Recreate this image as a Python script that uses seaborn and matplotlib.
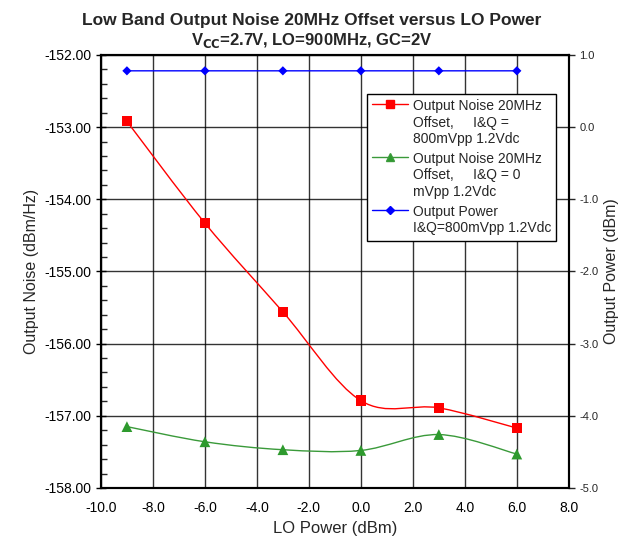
import numpy as np
import pandas as pd
import matplotlib
matplotlib.use("Agg")
import matplotlib.pyplot as plt
from matplotlib.path import Path
from matplotlib.patches import PathPatch
from matplotlib.lines import Line2D
from matplotlib.ticker import MultipleLocator, FormatStrFormatter
import seaborn as sns

lo_power = [-9, -6, -3, 0, 3, 6]
noise_800 = [-152.92, -154.33, -155.56, -156.79, -156.89, -157.17]
noise_0 = [-157.15, -157.36, -157.47, -157.48, -157.26, -157.53]
out_power = [0.78, 0.78, 0.78, 0.78, 0.78, 0.78]

labels = ["Output Noise 20MHz\nOffset,     I&Q =\n800mVpp 1.2Vdc",
          "Output Noise 20MHz\nOffset,     I&Q = 0\nmVpp 1.2Vdc",
          "Output Power\nI&Q=800mVpp 1.2Vdc"]

sns.set_style("white")
plt.rcParams['font.family'] = ['Liberation Sans', 'DejaVu Sans']


def smooth_path(x, y):
    # excel-like smoothed line: bezier segments through the points
    pts = np.column_stack([x, y]).astype(float)
    n = len(pts)
    verts = [pts[0]]
    codes = [Path.MOVETO]
    for i in range(n - 1):
        p0 = pts[i - 1] if i > 0 else pts[i]
        p1 = pts[i]
        p2 = pts[i + 1]
        p3 = pts[i + 2] if i + 2 < n else pts[i + 1]
        c1 = p1 + (p2 - p0) / 6.0
        c2 = p2 - (p3 - p1) / 6.0
        verts += [c1, c2, p2]
        codes += [Path.CURVE4] * 3
    return Path(verts, codes)


fig = plt.figure(figsize=(6.23, 5.44), dpi=100)
ax = fig.add_axes([0.162, 0.103, 0.751, 0.796])
ax2 = ax.twinx()

df = pd.DataFrame({"lo": lo_power, "n800": noise_800, "n0": noise_0, "pw": out_power})

ax.add_patch(PathPatch(smooth_path(df.lo, df.n800), fill=False, edgecolor="red", lw=1.0, zorder=3))
ax.add_patch(PathPatch(smooth_path(df.lo, df.n0), fill=False, edgecolor="#3a9a3a", lw=1.0, zorder=3))
sns.scatterplot(data=df, x="lo", y="n800", marker="s", color="red", s=55, edgecolor="none", ax=ax, zorder=4)
sns.scatterplot(data=df, x="lo", y="n0", marker="^", color="#2e9a2e", s=60, edgecolor="none", ax=ax, zorder=4)

ax2.add_patch(PathPatch(smooth_path(df.lo, df.pw), fill=False, edgecolor="blue", lw=1.0, zorder=3))
sns.scatterplot(data=df, x="lo", y="pw", marker="D", color="blue", s=22, edgecolor="none", ax=ax2, zorder=4)

ax.set_xlim(-10, 8)
ax.set_ylim(-158, -152)
ax2.set_ylim(-5, 1)

ax.xaxis.set_major_locator(MultipleLocator(2))
ax.xaxis.set_minor_locator(MultipleLocator(0.4))
ax.yaxis.set_major_locator(MultipleLocator(1))
ax.yaxis.set_minor_locator(MultipleLocator(0.2))
ax2.yaxis.set_major_locator(MultipleLocator(1))
ax.xaxis.set_major_formatter(FormatStrFormatter("%.1f"))
ax.yaxis.set_major_formatter(FormatStrFormatter("%.2f"))
ax2.yaxis.set_major_formatter(FormatStrFormatter("%.1f"))

ax.grid(True, which="major", color="black", lw=1.0, alpha=0.8)
ax.set_axisbelow(True)
for a in (ax, ax2):
    for s in a.spines.values():
        s.set_color("black")
        s.set_linewidth(1.5)

ax.tick_params(axis="both", which="major", direction="inout", length=7, width=1, labelsize=10, colors="black")
ax.tick_params(axis="both", which="minor", direction="in", length=4, width=1)
ax2.tick_params(axis="y", which="major", direction="out", length=4, width=1, labelsize=8)
ax.tick_params(axis="x", pad=6)

ax.set_xlabel("LO Power (dBm)", fontsize=12)
ax.set_ylabel("Output Noise (dBm/Hz)", fontsize=11.5)
ax2.set_ylabel("Output Power (dBm)", fontsize=11.5)

fig.text(0.5, 0.962, "Low Band Output Noise 20MHz Offset versus LO Power",
         ha="center", va="center", fontsize=12.5, fontweight="bold")
fig.text(0.5, 0.925, "V$_{\\mathbf{CC}}$=2.7V, LO=900MHz, GC=2V",
         ha="center", va="center", fontsize=12, fontweight="bold")

handles = [Line2D([], [], color="red", marker="s", ms=6, lw=1),
           Line2D([], [], color="#3a9a3a", marker="^", ms=6, markerfacecolor="#2e9a2e", lw=1),
           Line2D([], [], color="blue", marker="D", ms=4, lw=1)]
leg = ax2.legend(handles, labels, loc="upper left", bbox_to_anchor=(0.568, 0.91),
                 borderaxespad=0, fontsize=10, frameon=True, fancybox=False, edgecolor="black",
                 handlelength=2.6, handletextpad=0.3, labelspacing=0.45, borderpad=0.4)
leg.get_frame().set_linewidth(1.0)
leg.get_frame().set_alpha(1)
# put each handle next to the first line of its label
for col in leg._legend_handle_box.get_children():
    for row in col.get_children():
        row.align = "top"

fig.savefig("out.png", dpi=100)
